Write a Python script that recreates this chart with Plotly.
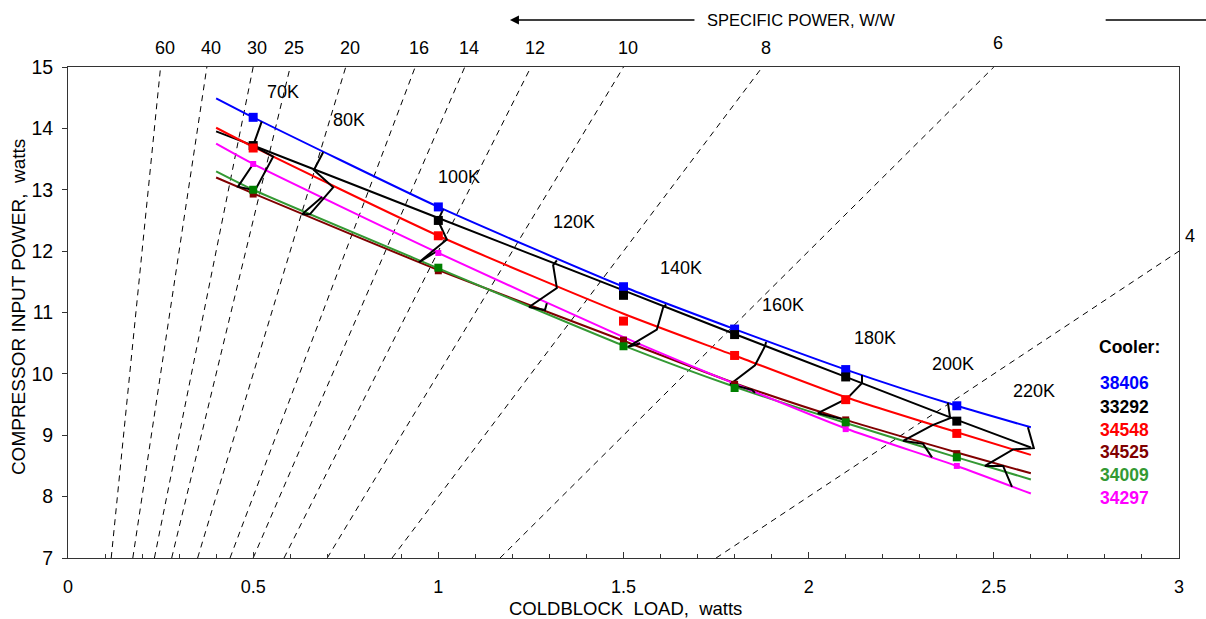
import plotly.graph_objects as go

# ---------------- data ----------------
LINE_Q = [0.4, 0.5, 1.0, 1.5, 1.8, 2.1, 2.4, 2.6]
MARK_Q = [0.5, 1.0, 1.5, 1.8, 2.1, 2.4]

COOLERS = ["38406", "33292", "34548", "34525", "34009", "34297"]
LINE_COLORS = ["#0000FF", "#000000", "#FF0000", "#800000", "#339933", "#FF00FF"]
MARK_COLORS = ["#0000FF", "#000000", "#FF0000", "#800000", "#008000", "#FF00FF"]
LEGEND_COLORS = ["#0000FF", "#000000", "#FF0000", "#800000", "#339933", "#FF00FF"]
MARK_SIZES = [9, 9, 9, 7, 8, 6]

line_38406 = [14.49, 14.18, 12.72, 11.42, 10.73, 10.07, 9.48, 9.13]
line_33292 = [13.95, 13.72, 12.54, 11.36, 10.65, 9.95, 9.25, 8.80]
line_34548 = [14.01, 13.70, 12.25, 10.98, 10.30, 9.62, 9.05, 8.68]
line_34525 = [13.20, 12.94, 11.69, 10.54, 9.85, 9.25, 8.72, 8.38]
line_34009 = [13.30, 13.00, 11.72, 10.46, 9.79, 9.20, 8.64, 8.28]
line_34297 = [13.75, 13.42, 11.97, 10.60, 9.84, 9.11, 8.50, 8.05]

pts_38406 = [14.18, 12.72, 11.42, 10.73, 10.07, 9.48]
pts_33292 = [13.72, 12.50, 11.28, 10.64, 9.95, 9.23]
pts_34548 = [13.68, 12.25, 10.86, 10.30, 9.58, 9.03]
pts_34525 = [12.93, 11.68, 10.55, 9.83, 9.25, 8.70]
pts_34009 = [13.00, 11.73, 10.45, 9.77, 9.21, 8.64]
pts_34297 = [13.42, 11.97, 10.56, 9.82, 9.10, 8.50]

# iso-temperature polylines (order: 38406, 33292, 34548, 34009, 34525, 34297)
ISO_TEMPS = ["70K", "80K", "100K", "120K", "140K", "160K", "180K", "200K", "220K"]
ISO_Q = [
    [0.523, 0.500, 0.554, 0.505, 0.459, 0.500],
    [0.689, 0.664, 0.716, 0.653, 0.632, 0.686],
    [1.013, 0.999, 1.023, 0.953, 0.948, 0.994],
    [1.320, 1.310, 1.320, 1.245, 1.288, 1.293],
    [1.615, 1.607, 1.590, 1.512, 1.531, 1.545],
    [1.885, 1.882, 1.855, 1.788, 1.847, 1.855],
    [2.144, 2.144, 2.104, 2.025, 2.093, 2.101],
    [2.376, 2.382, 2.333, 2.255, 2.309, 2.333],
    [2.592, 2.608, 2.552, 2.476, 2.525, 2.549],
]
ISO_P = [
    [14.11, 13.72, 13.54, 12.99, 13.05, 13.42],
    [13.61, 13.32, 13.04, 12.60, 12.60, 12.88],
    [12.68, 12.50, 12.19, 11.84, 11.82, 11.99],
    [11.85, 11.77, 11.40, 11.09, 11.04, 11.15],
    [11.13, 11.08, 10.72, 10.44, 10.47, 10.50],
    [10.52, 10.45, 10.14, 9.83, 9.74, 9.69],
    [9.98, 9.85, 9.60, 9.36, 9.26, 9.11],
    [9.53, 9.28, 9.16, 8.91, 8.86, 8.64],
    [9.13, 8.79, 8.77, 8.50, 8.50, 8.16],
]
ISO_LABEL_Q = [0.581, 0.759, 1.056, 1.366, 1.655, 1.931, 2.179, 2.390, 2.608]
ISO_LABEL_P = [14.59, 14.14, 13.21, 12.47, 11.73, 11.12, 10.58, 10.16, 9.72]

# specific power lines (W/W)
SPECIFIC_POWER = [60, 40, 30, 25, 20, 16, 14, 12, 10, 8, 6, 4]

X_RANGE = [0, 3]
Y_RANGE = [7, 15]
X_TICKS = [0, 0.5, 1, 1.5, 2, 2.5, 3]
X_TICK_TEXT = ["0", "0.5", "1", "1.5", "2", "2.5", "3"]
Y_TICKS = [7, 8, 9, 10, 11, 12, 13, 14, 15]

FONT = "Liberation Sans, Arial, sans-serif"

line_vals = [line_38406, line_33292, line_34548, line_34525, line_34009, line_34297]
pts_vals = [pts_38406, pts_33292, pts_34548, pts_34525, pts_34009, pts_34297]

fig = go.Figure()

# dashed specific-power lines  P = SP * Q
for sp in SPECIFIC_POWER:
    q0 = Y_RANGE[0] / sp
    q1 = min(Y_RANGE[1] / sp, X_RANGE[1])
    fig.add_trace(go.Scatter(
        x=[q0, q1], y=[sp * q0, sp * q1], mode="lines",
        line=dict(color="black", width=1, dash="6px,5px"),
        hoverinfo="skip", showlegend=False))

# cooler fit lines
for idx in [0, 1, 2, 3, 4, 5]:
    fig.add_trace(go.Scatter(
        x=LINE_Q, y=line_vals[idx], mode="lines",
        line=dict(color=LINE_COLORS[idx], width=2, shape="spline", smoothing=0.6),
        name=COOLERS[idx], showlegend=False))

# iso-temperature lines
for t, qs, ps in zip(ISO_TEMPS, ISO_Q, ISO_P):
    fig.add_trace(go.Scatter(
        x=qs, y=ps, mode="lines", line=dict(color="black", width=2),
        name=t, showlegend=False))

# measured points (draw order)
for idx in [0, 1, 2, 5, 3, 4]:
    fig.add_trace(go.Scatter(
        x=MARK_Q, y=pts_vals[idx], mode="markers",
        marker=dict(symbol="square", size=MARK_SIZES[idx], color=MARK_COLORS[idx],
                    line=dict(width=0)),
        name=COOLERS[idx], showlegend=False))

annotations = []
# temperature labels
for t, q, p in zip(ISO_TEMPS, ISO_LABEL_Q, ISO_LABEL_P):
    annotations.append(dict(x=q, y=p, xref="x", yref="y", text=t, showarrow=False,
                            font=dict(size=18, color="black", family=FONT)))

# specific power labels along the top (and right edge)
for sp in SPECIFIC_POWER:
    q_top = Y_RANGE[1] / sp
    if q_top <= X_RANGE[1]:
        yp = 1.049 if sp == 6 else 1.039
        annotations.append(dict(x=q_top, y=yp, xref="x", yref="paper", text=str(sp),
                                showarrow=False, xshift=4, yanchor="middle",
                                font=dict(size=18, color="black", family=FONT)))
    else:
        annotations.append(dict(x=1.0099, y=0.6558, xref="paper", yref="paper",
                                text=str(sp), showarrow=False, xanchor="center",
                                yanchor="middle",
                                font=dict(size=18, color="black", family=FONT)))

# header with arrow
annotations.append(dict(x=0.3978, y=1.0957, xref="paper", yref="paper", text="",
                        showarrow=True, ax=186, ay=0, axref="pixel", ayref="pixel",
                        arrowhead=2, arrowsize=1.2, arrowwidth=1.5, arrowcolor="black"))
annotations.append(dict(x=0.573, y=1.0957, xref="paper", yref="paper",
                        text="SPECIFIC POWER, W/W", showarrow=False, xanchor="left",
                        yanchor="middle",
                        font=dict(size=16.5, color="black", family=FONT)))

# legend block
annotations.append(dict(x=2.779, y=10.44, xref="x", yref="y", text="<b>Cooler:</b>",
                        showarrow=False, xanchor="left", yanchor="middle",
                        font=dict(size=17.5, color="black", family=FONT)))
LEG_P = [9.851, 9.46, 9.085, 8.727, 8.352, 7.978]
for name, col, p in zip(COOLERS, LEGEND_COLORS, LEG_P):
    annotations.append(dict(x=2.781, y=p, xref="x", yref="y", text="<b>%s</b>" % name,
                            showarrow=False, xanchor="left", yanchor="middle",
                            font=dict(size=17.5, color=col, family=FONT)))

# axis titles
annotations.append(dict(x=-0.045, y=0.511, xref="paper", yref="paper",
                        text="COMPRESSOR INPUT POWER,&nbsp; watts", textangle=-90,
                        xanchor="center", yanchor="middle",
                        showarrow=False, font=dict(size=19, color="black", family=FONT)))
annotations.append(dict(x=0.5015, y=-0.102, xref="paper", yref="paper",
                        text="COLDBLOCK&nbsp; LOAD,&nbsp; watts",
                        xanchor="center", yanchor="middle",
                        showarrow=False, font=dict(size=18.5, color="black", family=FONT)))

shapes = [dict(type="line", xref="paper", yref="paper", x0=0.934, x1=1.03,
               y0=1.0957, y1=1.0957, line=dict(color="black", width=1.5))]

fig.update_layout(
    width=1206, height=619,
    margin=dict(l=68, r=27, t=67, b=61),
    paper_bgcolor="white", plot_bgcolor="white",
    showlegend=False,
    annotations=annotations, shapes=shapes,
    font=dict(family=FONT, color="black"),
    xaxis=dict(range=X_RANGE, tickvals=X_TICKS, ticktext=X_TICK_TEXT,
               showgrid=False, zeroline=False, showline=True, linecolor="#333333",
               linewidth=1, mirror=True, ticks="inside", ticklen=6, tickcolor="#333333",
               ticklabelstandoff=12,
               minor=dict(dtick=0.1, ticks="inside", ticklen=4, tickcolor="#333333"),
               tickfont=dict(size=18, family=FONT, color="black")),
    yaxis=dict(range=Y_RANGE, tickvals=Y_TICKS, showgrid=False, zeroline=False,
               showline=True, linecolor="#333333", linewidth=1, mirror=True,
               ticks="outside", ticklen=5, tickcolor="#333333",
               ticklabelstandoff=5,
               tickfont=dict(size=19.5, family=FONT, color="black")),
)

fig.write_html("out.html")
